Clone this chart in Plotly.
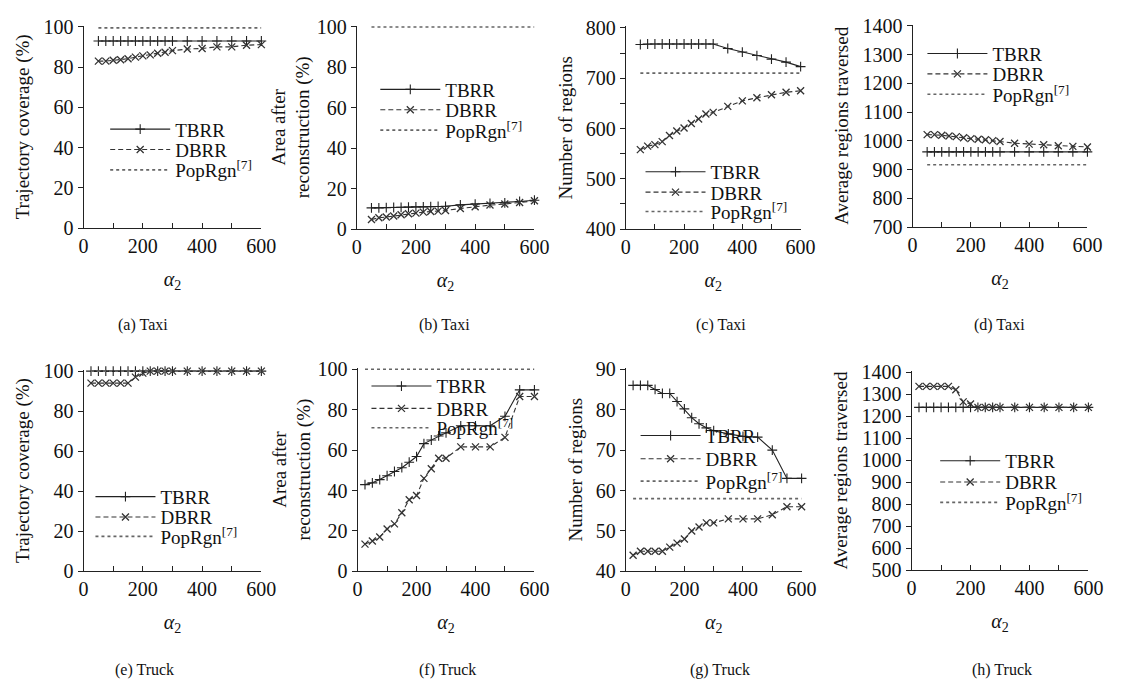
import plotly.graph_objects as go

W, H = 1126, 691
FONT = "Liberation Serif"

# ---------------- data ----------------
x_taxi = [50, 75, 100, 125, 150, 175, 200, 225, 250, 275, 300, 350, 400, 450, 500, 550, 600]
x_truck = [25, 50, 75, 100, 125, 150, 175, 200, 225, 250, 275, 300, 350, 400, 450, 500, 550, 600]

# (a) Taxi - trajectory coverage (%)
a_tbrr = [93, 93, 93, 93, 93, 93, 93, 93, 93, 93, 93, 93, 93, 93, 93, 93, 93]
a_dbrr = [83, 83, 83.4, 83.7, 84.2, 85, 85.6, 86.1, 86.9, 87.4, 88.2, 89, 89.3, 90.1, 90.1, 90.9, 91.2]
a_pop = [99.5] * 17

# (b) Taxi - area after reconstruction (%)
b_tbrr = [10.5, 10.5, 10.6, 10.7, 10.8, 10.9, 11, 11, 11.1, 11.2, 11.3, 12, 12.4, 12.7, 13, 13.7, 14.3]
b_dbrr = [4.8, 5.6, 6, 6.5, 7.1, 7.6, 7.9, 8.4, 8.7, 8.9, 9.2, 10.2, 11.1, 11.9, 12.4, 13.2, 14]
b_pop = [100] * 17

# (c) Taxi - number of regions
c_tbrr = [767, 768, 768, 768, 768, 768, 768, 768, 768, 768, 768, 759, 752, 745, 738, 732, 723]
c_dbrr = [558, 565, 568, 574, 586, 595, 601, 610, 619, 629, 632, 644, 655, 661, 667, 672, 675]
c_pop = [710] * 17

# (d) Taxi - average regions traversed
d_tbrr = [962] * 17
d_dbrr = [1022, 1022, 1020, 1017, 1015, 1011, 1008, 1006, 1004, 1001, 998, 992, 989, 987, 983, 981, 979]
d_pop = [917] * 17

# (e) Truck - trajectory coverage (%)
e_tbrr = [100] * 18
e_dbrr = [94, 94, 94, 94, 94, 94, 97, 99, 100, 100, 100, 100, 100, 100, 100, 100, 100, 100]
e_pop = [100] * 18

# (f) Truck - area after reconstruction (%)
f_tbrr = [42.9, 43.8, 45.4, 47.3, 49.4, 51.3, 54, 56.8, 63.2, 65, 67, 68.5, 72, 72, 72, 76.7, 89.8, 89.8]
f_dbrr = [13.5, 15, 17, 21, 23.5, 29, 35.4, 37.5, 46, 50.8, 56, 56, 61.6, 61.6, 61.6, 66.3, 86.5, 86.5]
f_pop = [100] * 18

# (g) Truck - number of regions
g_tbrr = [86, 86, 86, 85, 84, 84, 82, 80.2, 78, 76.5, 75.5, 74.8, 74, 73.4, 73.2, 70, 63, 63]
g_dbrr = [44, 45, 45, 45, 45, 46, 47, 48, 50, 51, 52, 52, 53, 53, 53, 54, 56, 56]
g_pop = [58] * 18

# (h) Truck - average regions traversed
h_tbrr = [1240] * 18
h_dbrr = [1335, 1335, 1335, 1335, 1335, 1320, 1265, 1255, 1240, 1240, 1240, 1240, 1240, 1240, 1240, 1240, 1240, 1240]
h_pop = [None] * 18  # not visible within the plotted range (legend only)

series_names = ["TBRR", "DBRR", "PopRgn<sup>[7]</sup>"]
captions = ["(a) Taxi", "(b) Taxi", "(c) Taxi", "(d) Taxi",
            "(e) Truck", "(f) Truck", "(g) Truck", "(h) Truck"]
ytitles = ["Trajectory coverage (%)", "Area after<br>reconstruction (%)",
           "Number of regions", "Average regions traversed",
           "Trajectory coverage (%)", "Area after<br>reconstruction (%)",
           "Number of regions", "Average regions traversed"]

panels = [
    (x_taxi, a_tbrr, a_dbrr, a_pop),
    (x_taxi, b_tbrr, b_dbrr, b_pop),
    (x_taxi, c_tbrr, c_dbrr, c_pop),
    (x_taxi, d_tbrr, d_dbrr, d_pop),
    (x_truck, e_tbrr, e_dbrr, e_pop),
    (x_truck, f_tbrr, f_dbrr, f_pop),
    (x_truck, g_tbrr, g_dbrr, g_pop),
    (x_truck, h_tbrr, h_dbrr, h_pop),
]

# ---------------- layout geometry (pixels) ----------------
boxes = [
    (80, 261, 16, 225), (358, 539, 16, 226), (632, 810, 17, 226), (924, 1102, 15, 224),
    (80, 261, 371, 579), (359, 539, 369, 579), (632, 811, 369, 579), (923, 1103, 372, 578),
]
yranges = [(0, 100), (0, 100), (400, 800), (700, 1400), (0, 100), (0, 100), (40, 90), (500, 1400)]
ydticks = [20, 20, 100, 100, 20, 20, 10, 100]
yminor = [None, None, 50, None, None, None, None, None]
ystand = [8, 1, 8, 8, 8, 1, 8, 8]
# legend rows: (text start x, row1 y, row2 y, row3 y)
legpos = [
    (176, 123, 144, 165), (451, 82, 103, 124), (721, 167, 188, 208), (1008, 45, 66, 87),
    (161, 502, 523, 543), (442, 388, 411, 431), (716, 439, 463, 486), (1021, 465, 487, 508),
]
cap_x = [140, 447, 729, 1012, 142, 450, 728, 1015]
cap_y = [325, 325, 325, 325, 681, 681, 681, 681]

ITEMW = 60

fig = go.Figure()
layout = dict(
    width=W, height=H, margin=dict(l=0, r=0, t=0, b=0),
    paper_bgcolor="white", plot_bgcolor="white",
    font=dict(family=FONT, size=19, color="#111"),
    showlegend=True, annotations=[],
)

tick_font = dict(family=FONT, size=20, color="#111")

for i, (xs, tb, db, pop) in enumerate(panels):
    n = i + 1
    xa = "x" if n == 1 else f"x{n}"
    ya = "y" if n == 1 else f"y{n}"
    l, r, t, b = boxes[i]
    y0, y1 = yranges[i]
    pad = (y1 - y0) * 0.007
    styles = [
        dict(mode="lines+markers", line=dict(color="#222", width=1.1),
             marker=dict(symbol="cross-thin", size=7, line=dict(color="#222", width=1.1))),
        dict(mode="lines+markers", line=dict(color="#333", width=1.1, dash="5px,3px"),
             marker=dict(symbol="x-thin", size=7, line=dict(color="#333", width=1.3))),
        dict(mode="lines", line=dict(color="#666", width=1.6, dash="dot")),
    ]
    data = [(xs, tb), (xs, db), (xs, pop)]
    tx, r1, r2, r3 = legpos[i]
    rows = [r1, r2, r3]
    for k in range(3):
        lid = f"legend{3 * i + k + 1}" if (3 * i + k) > 0 else "legend"
        fig.add_trace(go.Scatter(
            x=data[k][0], y=data[k][1], name=series_names[k], xaxis=xa, yaxis=ya,
            legend=lid, cliponaxis=False, **styles[k]))
        layout[lid] = dict(
            x=(tx - ITEMW - 14) / W, y=1 - rows[k] / H, xanchor="left", yanchor="middle",
            bgcolor="rgba(0,0,0,0)", borderwidth=0,
            font=dict(family=FONT, size=19, color="#111"),
            itemwidth=ITEMW, tracegroupgap=0,
        )
    xkey = "xaxis" if n == 1 else f"xaxis{n}"
    ykey = "yaxis" if n == 1 else f"yaxis{n}"
    layout[xkey] = dict(
        domain=[l / W, r / W], anchor=ya, range=[0, 600],
        showline=True, linecolor="#222", linewidth=1, showgrid=False, zeroline=False,
        tickmode="linear", tick0=0, dtick=200, ticks="inside", ticklen=5, tickcolor="#222",
        minor=dict(dtick=100, ticks="inside", ticklen=5, tickcolor="#222", showgrid=False),
        tickfont=tick_font,
        title=dict(text="<i>α</i><sub>2</sub>", font=dict(family=FONT, size=20), standoff=15),
    )
    ydict = dict(
        domain=[1 - b / H, 1 - t / H], anchor=xa, range=[y0, y1 + pad],
        showline=True, linecolor="#222", linewidth=1, showgrid=False, zeroline=False,
        tickmode="linear", tick0=y0, dtick=ydticks[i], ticks="outside", ticklen=5,
        tickcolor="#222", tickfont=tick_font,
        title=dict(text=ytitles[i], font=dict(family=FONT, size=19), standoff=ystand[i]),
    )
    if yminor[i]:
        ydict["minor"] = dict(dtick=yminor[i], ticks="outside", ticklen=5, tickcolor="#222", showgrid=False)
    layout[ykey] = ydict
    layout["annotations"].append(dict(
        text=captions[i], x=cap_x[i] / W, y=1 - cap_y[i] / H, xref="paper", yref="paper",
        showarrow=False, xanchor="center", yanchor="middle",
        font=dict(family=FONT, size=16, color="#111")))

fig.update_layout(**layout)
fig.write_html("out.html")
